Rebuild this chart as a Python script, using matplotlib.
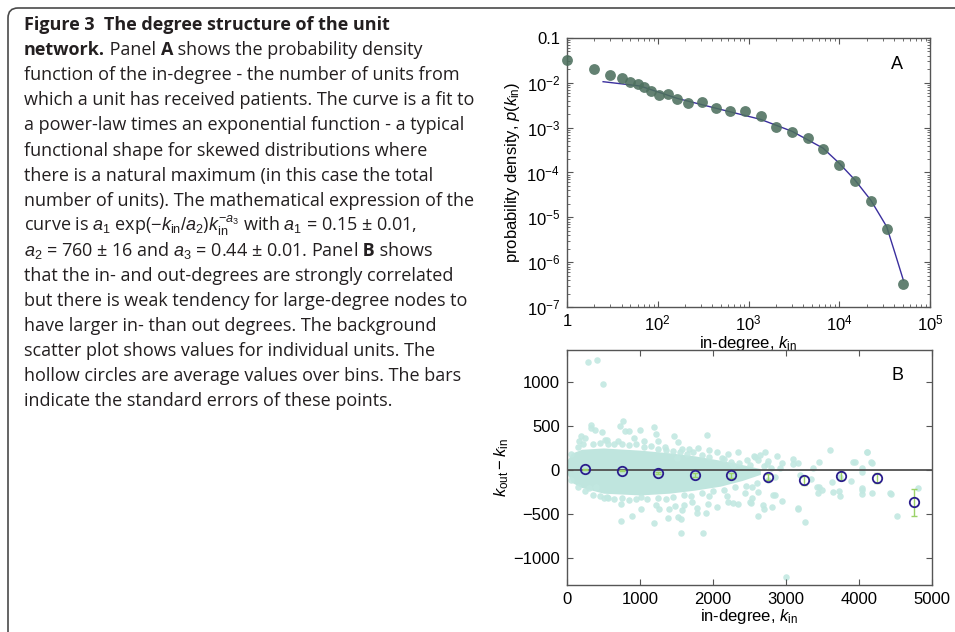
"""
Figure 3 - degree structure of the unit network.
Panel A: in-degree density (log-log) with fitted curve; panel B: k_out - k_in vs k_in.
"""

import matplotlib as mpl
import matplotlib.pyplot as plt
from matplotlib.path import Path
from matplotlib.patches import PathPatch
from matplotlib.transforms import IdentityTransform
import numpy as np

mpl.rcParams["font.family"] = ["Liberation Sans", "DejaVu Sans"]
mpl.rcParams["mathtext.fontset"] = "custom"
mpl.rcParams["mathtext.rm"] = "Liberation Sans"
mpl.rcParams["mathtext.it"] = "Liberation Sans:italic"
mpl.rcParams["mathtext.bf"] = "Liberation Sans:bold"

# ---- panel A: binned in-degree density ----
kin_bins = [10, 20, 30, 40, 50, 60, 70, 85, 103, 130, 165, 215, 305, 440, 630,
            920, 1370, 2000, 3000, 4500, 6700, 9900, 15000, 22300, 33600, 50800]
density = [0.032, 0.020, 0.015, 0.0128, 0.0106, 0.0092, 0.0080, 0.00665, 0.00532,
           0.0055, 0.0044, 0.00352, 0.00378, 0.00268, 0.0023, 0.00233, 0.00184,
           0.00106, 0.00079, 0.00059, 0.00034, 0.00015, 6.5e-5, 2.27e-5, 5.5e-6, 3.3e-7]

fit_x = [25, 64, 164, 441, 1361, 3013, 6620, 9930, 14900, 22200, 27200, 33300, 41100, 50800]
fit_y = [0.0106, 0.0085, 0.0045, 0.0027, 0.00153, 8.3e-4, 3.5e-4, 1.63e-4, 6.8e-5,
         2.43e-5, 1.23e-5, 6.2e-6, 1.6e-6, 4.0e-7]

# ---- panel B: individual units + bin averages ----
# dense core of the cloud (outline)
core_x = [0, 60, 200, 500, 1000, 1400, 1750, 2100, 2400, 2650]
core_hi = [110, 190, 235, 250, 225, 195, 160, 110, 60, 15]
core_lo = [-40, -140, -200, -265, -285, -265, -230, -185, -120, -50]

unit_x = [288, 407, 494, 325, 334, 389, 485, 732, 773, 791, 846, 1006, 1194, 1217,
          188, 160, 252, 521, 554, 695, 919, 1052, 1244, 1459, 1523, 1912,
          1944, 2054, 1674, 1797, 1729, 1578, 1340, 2209, 2338, 2461, 2561, 2118, 1501,
          2575, 2712, 2872, 2612, 2757, 3100, 3169, 3457, 3608, 3946, 4115, 4166, 2941,
          302, 403, 508, 562, 746, 737, 897, 1020, 1194, 1213, 1262, 1386, 1395, 1477,
          1514, 1560, 1560, 1569, 1601, 1706, 1775, 1783, 1866, 1898, 1934, 2054, 2195,
          2200, 2269, 2338, 2438, 2516, 1948, 1020,
          2529, 2506, 2612, 2689, 2702, 2803, 2849, 2941, 3169, 3260, 2995, 3434, 3452,
          3498, 3649, 3731, 3741, 3892, 4038, 4047, 4176, 4440, 4518, 4815, 2620, 2529,
          2849, 3343, 3627, 4038,
          2277, 2643, 2735, 2918, 3100, 3192, 3375, 3745, 3923, 4038, 4107, 4176, 4427,
          4038, 3420, 2826, 3169,
          50, 150, 220, 350, 450, 560, 650, 760, 850, 950, 1050, 1150, 1250, 1350,
          1450, 1550, 1650, 1850, 1950, 2150, 2250, 2350, 2500, 2700, 2800,
          50, 150, 250, 350, 450, 550, 650, 750, 850, 950, 1100, 1250, 1350, 1450,
          1600, 1700, 1850, 2000, 2150, 2300, 2450, 2600, 2750]
unit_y = [1223, 1254, 973, 511, 474, 451, 436, 504, 557, 443, 443, 459, 489, 413,
          390, 334, 360, 345, 345, 334, 360, 334, 334, 390, 315, 398,
          232, 209, 239, 250, 201, 239, 258, 182, 209, 118, 156, 133, 133,
          152, 201, 156, 118, 107, 125, 80, 87, 232, 87, 201, 87, 76,
          -211, -193, -325, -325, -393, -583, -523, -446, -602, -401, -450, -552, -450, -412,
          -541, -563, -722, -458, -401, -370, -432, -488, -722, -495, -393, -420, -299,
          -370, -375, -390, -268, -375, -299, -307,
          -325, -370, -523, -401, -446, -420, -287, -356, -446, -591, -1215, -268, -193,
          -231, -250, -242, -295, -128, -211, -279, -268, -279, -523, -211, -250, -193,
          -80, -98, -136, -23,
          53, 167, 73, 27, 73, -60, 27, -80, 91, 27, 205, 80, -268,
          -230, -193, -287, -438,
          180, 260, 300, 290, 310, 300, 290, 300, 280, 290, 265, 270, 240, 230,
          215, 200, 185, 170, 150, 120, 95, 80, 60, 40, 20,
          -120, -200, -240, -280, -300, -310, -330, -320, -340, -330, -335, -320, -330, -310,
          -290, -300, -260, -240, -230, -200, -180, -150, -120]

bin_x = [250, 750, 1250, 1750, 2250, 2750, 3250, 3750, 4250, 4750]
bin_mean = [5, -10, -35, -58, -62, -80, -120, -65, -92, -368]
bin_err = [5, 8, 12, 18, 25, 38, 47, 45, 57, 155]

caption = [
    [("Figure 3  The degree structure of the unit", "bold")],
    [("network.", "bold"), (" Panel ", "normal"), ("A", "bold"), (" shows the probability density", "normal")],
    [("function of the in-degree - the number of units from", "normal")],
    [("which a unit has received patients. The curve is a fit to", "normal")],
    [("a power-law times an exponential function - a typical", "normal")],
    [("functional shape for skewed distributions where", "normal")],
    [("there is a natural maximum (in this case the total", "normal")],
    [("number of units). The mathematical expression of the", "normal")],
    [(r"curve is $a_1$ exp($-k_{\mathrm{in}}/a_2$)$k_{\mathrm{in}}^{-a_3}$ with $a_1$ = 0.15 ± 0.01,", "normal")],
    [(r"$a_2$ = 760 ± 16 and $a_3$ = 0.44 ± 0.01. Panel", "normal"), (" B", "bold"), (" shows", "normal")],
    [("that the in- and out-degrees are strongly correlated", "normal")],
    [("but there is weak tendency for large-degree nodes to", "normal")],
    [("have larger in- than out degrees. The background", "normal")],
    [("scatter plot shows values for individual units. The", "normal")],
    [("hollow circles are average values over bins. The bars", "normal")],
    [("indicate the standard errors of these points.", "normal")],
]

W, H = 955, 632
fig = plt.figure(figsize=(W / 100, H / 100), dpi=100)

# frame around the caption (rounded top-left corner)
frame = Path([(8, 0), (8, H - 18), (8, H - 8), (18, H - 8), (W + 5, H - 8)],
             [Path.MOVETO, Path.LINETO, Path.CURVE3, Path.CURVE3, Path.LINETO])
fig.patches.append(PathPatch(frame, transform=IdentityTransform(), fill=False,
                             edgecolor="#4a4a4a", lw=1.2))

# caption, drawn piece by piece so bold words sit inline
renderer = fig.canvas.get_renderer()
for i, parts in enumerate(caption):
    x = 24
    y = H - 30 - 25.1 * i
    for s, w in parts:
        t = fig.text(x / W, y / H, s, fontsize=13, fontweight=w, color="#231f20",
                     family=["Open Sans", "DejaVu Sans"], va="baseline", ha="left")
        x += t.get_window_extent(renderer).width

spine_c = "#555555"


def style(ax):
    for sp in ax.spines.values():
        sp.set_color(spine_c)
        sp.set_linewidth(1.0)
    ax.tick_params(which="both", direction="in", top=True, right=True, color=spine_c,
                   labelsize=12, pad=5)
    ax.tick_params(which="major", length=4, width=0.8)
    ax.tick_params(which="minor", length=2, width=0.6)


# ---- panel A ----
axA = fig.add_axes([567 / W, 1 - 307 / H, 363 / W, 269 / H])
axA.plot(fit_x, fit_y, color="#3b2f9e", lw=1.0, zorder=2)
axA.plot(kin_bins, density, "o", ms=7.8, color="#4d705e", alpha=0.88, mec="none",
         zorder=3, clip_on=False)
axA.set_xscale("log")
axA.set_yscale("log")
axA.set_xlim(10, 1e5)
axA.set_ylim(1e-7, 0.1)
axA.set_xticks([10, 1e2, 1e3, 1e4, 1e5], ["1", "$10^2$", "$10^3$", "$10^4$", "$10^5$"])
axA.set_yticks([1e-7, 1e-6, 1e-5, 1e-4, 1e-3, 1e-2, 0.1],
               ["$10^{-7}$", "$10^{-6}$", "$10^{-5}$", "$10^{-4}$", "$10^{-3}$", "$10^{-2}$", "0.1"])
axA.xaxis.set_minor_locator(mpl.ticker.LogLocator(base=10, subs=np.arange(2, 10)))
axA.yaxis.set_minor_locator(mpl.ticker.LogLocator(base=10, subs=np.arange(2, 10)))
axA.xaxis.set_minor_formatter(mpl.ticker.NullFormatter())
axA.yaxis.set_minor_formatter(mpl.ticker.NullFormatter())
style(axA)
axA.set_xlabel(r"in-degree, $k_{\mathrm{in}}$", fontsize=12, labelpad=0)
axA.set_ylabel(r"probability density, $p(k_{\mathrm{in}})$", fontsize=12, labelpad=3)
axA.text(0.91, 0.90, "A", transform=axA.transAxes, fontsize=13, ha="center", va="center")

# ---- panel B ----
axB = fig.add_axes([567 / W, 1 - 585 / H, 365 / W, 235 / H])
pt_c = "#c2e8e1"
axB.fill_between(core_x, core_lo, core_hi, color="#bfe5de", lw=0, zorder=1)
axB.scatter(unit_x, unit_y, s=22, color=pt_c, alpha=0.9, lw=0, zorder=1)
axB.axhline(0, color="#505050", lw=1.3, zorder=2)
axB.errorbar(bin_x, bin_mean, yerr=bin_err, fmt="none", ecolor="#9bd268", elinewidth=1.0,
             capsize=2.2, capthick=1.0, zorder=3)
axB.plot(bin_x, bin_mean, "o", ms=6.8, mfc="none", mec="#2a1d8c", mew=1.3, zorder=4)
axB.set_xlim(0, 5000)
axB.set_ylim(-1310, 1365)
axB.set_xticks([0, 1000, 2000, 3000, 4000, 5000])
axB.set_yticks([-1000, -500, 0, 500, 1000])
style(axB)
axB.set_xlabel(r"in-degree, $k_{\mathrm{in}}$", fontsize=12, labelpad=0)
axB.set_ylabel(r"$k_{\mathrm{out}} - k_{\mathrm{in}}$", fontsize=12, labelpad=2)
axB.text(0.905, 0.89, "B", transform=axB.transAxes, fontsize=13, ha="center", va="center")

fig.savefig("out.png", dpi=100)
